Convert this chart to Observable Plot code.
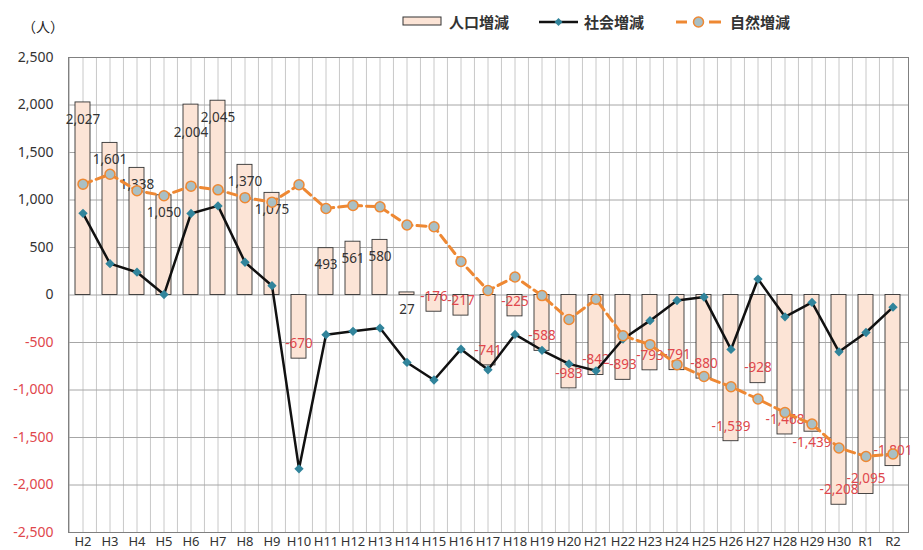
<!DOCTYPE html>
<html><head><meta charset="utf-8">
<script src="https://cdn.jsdelivr.net/npm/d3@7"></script>
<script src="https://cdn.jsdelivr.net/npm/@observablehq/plot@0.6"></script>
<style>
body{margin:0;background:#fff;}
#wrap{position:relative;width:923px;height:550px;font-family:"Noto Sans CJK JP","Noto Sans",sans-serif;color:#222;}
#chart{position:absolute;left:0;top:0;}
.abs{position:absolute;line-height:1;white-space:nowrap;}
.lg{font-size:15px;font-weight:bold;color:#333;}
</style></head><body>
<div id="wrap">
<div id="chart"></div>
<div class="abs" style="left:22px;top:19px;font-size:14px;">（人）</div>
<svg class="abs" style="left:402px;top:15px;" width="42" height="12"><rect x="1" y="2" width="38" height="8" fill="#FCE4D6" stroke="#333" stroke-width="1"/></svg>
<div class="abs lg" style="left:449px;top:14px;">人口増減</div>
<svg class="abs" style="left:538px;top:15px;" width="42" height="14"><line x1="1" x2="40" y1="7" y2="7" stroke="#111" stroke-width="2.5"/><path d="M20.5,3 L24.5,7 L20.5,11 L16.5,7Z" fill="#31849B"/></svg>
<div class="abs lg" style="left:584px;top:14px;">社会増減</div>
<svg class="abs" style="left:675px;top:15px;" width="48" height="14"><line x1="1" x2="12" y1="7" y2="7" stroke="#EE8833" stroke-width="3"/><line x1="34" x2="46" y1="7" y2="7" stroke="#EE8833" stroke-width="3"/><circle cx="23.5" cy="7" r="5" fill="#A9BFC4" stroke="#EE8833" stroke-width="1.5"/></svg>
<div class="abs lg" style="left:730px;top:14px;">自然増減</div>
</div>
<script>
const categories = ["H2","H3","H4","H5","H6","H7","H8","H9","H10","H11","H12","H13","H14","H15","H16","H17","H18","H19","H20","H21","H22","H23","H24","H25","H26","H27","H28","H29","H30","R1","R2"];
const popChange = [2027,1601,1338,1050,2004,2045,1370,1075,-670,493,561,580,27,-176,-217,-741,-225,-588,-983,-842,-893,-793,-791,-880,-1539,-928,-1468,-1439,-2208,-2095,-1801];
const socialChange = [860,330,240,5,858,938,345,98,-1830,-418,-382,-348,-710,-895,-570,-788,-415,-582,-725,-798,-463,-270,-58,-22,-573,168,-230,-78,-598,-395,-128];
const naturalChange = [1167,1271,1098,1045,1146,1107,1025,977,1160,911,943,928,737,719,353,47,190,-6,-258,-44,-429,-523,-733,-858,-966,-1095,-1238,-1359,-1610,-1700,-1673];
const yTicks = [2500,2000,1500,1000,500,0,-500,-1000,-1500,-2000,-2500];

const W = 923, H = 550, ML = 68, MR = 15, MT = 57, MB = 18;
const step = (W - ML - MR) / categories.length;
const red = "#E0474C";
const fmt = d => (d < 0 ? "-" : "") + d3.format(",")(Math.abs(d));

const rows = categories.map((c, i) => ({cat: c, pop: popChange[i], soc: socialChange[i], nat: naturalChange[i], dodge: false}));

// simple label collision avoidance (like the spreadsheet's label placement)
const yPx = d3.scaleLinear([-2500, 2500], [H - MB, MT]);
const labelW = s => s.length * 7.2;
const baseY = d => yPx(d.pop) + (d.pop >= 0 ? 17 : -15);
for (let i = 0; i < rows.length - 1; i++) {
  const a = rows[i], b = rows[i + 1];
  const hOverlap = (labelW(fmt(a.pop)) + labelW(fmt(b.pop))) / 2 - step > 3;
  const vOverlap = Math.abs(baseY(a) - baseY(b)) < 8;
  if (hOverlap && vOverlap) {
    (Math.abs(a.pop) < Math.abs(b.pop) ? a : b).dodge = true;
  }
}

const chart = Plot.plot({
  width: W, height: H,
  marginLeft: ML, marginRight: MR, marginTop: MT, marginBottom: MB,
  style: {fontFamily: "'Noto Sans', sans-serif", background: "#fff"},
  x: {type: "band", domain: categories, paddingInner: 0.43, paddingOuter: 0.215, axis: null, label: null},
  y: {domain: [-2500, 2500], axis: null, label: null},
  marks: [
    Plot.ruleX(categories, {x: d => d, stroke: "#C8C8C8", strokeWidth: 1}),
    Plot.ruleX(categories, {x: d => d, dx: -step / 2, stroke: "#C8C8C8", strokeWidth: 1}),
    Plot.ruleY(yTicks, {y: d => d, stroke: "#A6A6A6", strokeWidth: 1}),
    Plot.barY(rows, {x: "cat", y1: 0, y2: "pop", fill: "#FCE4D6", stroke: "#333", strokeWidth: 0.9}),
    Plot.frame({stroke: "#808080", strokeWidth: 1}),
    Plot.text(rows.filter(d => d.pop >= 0 && !d.dodge), {x: "cat", y: "pop", text: d => fmt(d.pop), dy: 17, fill: "#333", fontSize: 13.5}),
    Plot.text(rows.filter(d => d.pop >= 0 && d.dodge), {x: "cat", y: "pop", text: d => fmt(d.pop), dy: 28, fill: "#333", fontSize: 13.5}),
    Plot.text(rows.filter(d => d.pop < 0 && !d.dodge), {x: "cat", y: "pop", text: d => fmt(d.pop), dy: -15, fill: red, fontSize: 13.5}),
    Plot.text(rows.filter(d => d.pop < 0 && d.dodge), {x: "cat", y: "pop", text: d => fmt(d.pop), dy: 11, fill: red, fontSize: 13.5}),
    Plot.line(rows, {x: "cat", y: "soc", stroke: "#111", strokeWidth: 2.5}),
    Plot.dot(rows, {x: "cat", y: "soc", symbol: "diamond2", r: 4.2, fill: "#31849B", stroke: "none"}),
    Plot.line(rows, {x: "cat", y: "nat", stroke: "#EE8833", strokeWidth: 3, strokeDasharray: "9,5"}),
    Plot.dot(rows, {x: "cat", y: "nat", r: 5, fill: "#A9BFC4", stroke: "#EE8833", strokeWidth: 1.5}),
    Plot.axisX({tickSize: 0, tickPadding: 4, fontSize: 13, fill: "#333", label: null}),
    Plot.axisY(yTicks.filter(d => d >= 0), {tickSize: 0, tickPadding: 15, tickFormat: fmt, fontSize: 14, fill: "#333", label: null}),
    Plot.axisY(yTicks.filter(d => d < 0), {tickSize: 0, tickPadding: 15, tickFormat: fmt, fontSize: 14, fill: red, label: null})
  ]
});
document.getElementById("chart").appendChild(chart);
</script>
</body></html>
